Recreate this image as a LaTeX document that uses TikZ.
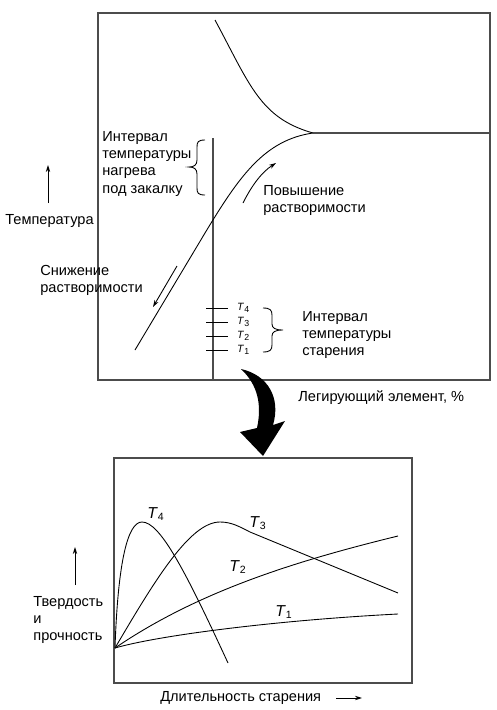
\documentclass[tikz,border=0pt]{standalone}
\usepackage{fontspec}
\setmainfont{Liberation Sans}
\usetikzlibrary{arrows.meta}
\tikzset{
  lbl/.style={inner sep=0pt,align=left,anchor=north west,font=\fontsize{8.3}{9.8}\selectfont},
  tlbl/.style={inner sep=0pt,font=\fontsize{6}{7}\selectfont},
  clbl/.style={inner sep=0pt,font=\fontsize{9}{10}\selectfont},
  frame/.style={draw=black!70,line width=0.6pt},
  curve/.style={line width=0.5pt},
}
\newcommand{\Tlab}[1]{\textit{T}\textsubscript{#1}}
\begin{document}
\begin{tikzpicture}[x=0.02cm,y=-0.02cm,>={Stealth[length=4pt,width=2.5pt]}]
\useasboundingbox (0,0) rectangle (497,710);
% upper diagram
\draw[frame] (98,13) rectangle (490,380);
\draw[frame] (213,138) -- (213,380);
\draw[curve] (215,20) .. controls (250,85) and (260,118) .. (313,133);
\draw[frame] (313,133) -- (490,133);
\draw[curve] (135,350) -- (205,233) .. controls (240,175) and (265,140) .. (313,133);
\draw[->,curve] (243,203) .. controls (252,185) and (262,172) .. (276,163);
\draw[->,curve] (177,266) -- (153,307);
% quench interval
\draw[curve] (205,140) .. controls (198,140) and (197,142) .. (197,147) -- (197,160)
  .. controls (197,165) and (194,167) .. (189,167) .. controls (194,167) and (197,169) .. (197,174)
  -- (197,188) .. controls (197,193) and (198,195) .. (205,195);
\node[lbl] (quench) at (102,131) {Интервал\\температуры\\нагрева\\под закалку};
% ageing temperatures
\foreach \y/\i in {308/4,322/3,336/2,350/1}
  \draw[curve] (206,\y) -- (228,\y) node[tlbl,right=5pt] (t\i) {\Tlab{\i}};
\draw[curve] (263,308) .. controls (270,308) and (272,310) .. (272,315) -- (272,324)
  .. controls (272,328) and (275,330) .. (283,330) .. controls (275,330) and (272,332) .. (272,336)
  -- (272,345) .. controls (272,350) and (270,352) .. (263,352);
\node[lbl] (ageint) at (302,311) {Интервал\\температуры\\старения};
\node[lbl] (up) at (263,185) {Повышение\\растворимости};
\node[lbl] (down) at (40,265) {Снижение\\растворимости};
\node[lbl] (temp) at (5,214) {Температура};
\draw[->,curve] (48,203) -- (48,165);
\node[lbl] (alloy) at (298,390) {Легирующий элемент, \%};
% big arrow
\fill (241,369) .. controls (268,375) and (281,398) .. (273,425) -- (285,421) -- (263,456)
  -- (240,432) -- (257,428) .. controls (262,405) and (258,385) .. cycle;
% lower diagram
\draw[frame] (114,458) rectangle (412,683);
\draw[curve] (115,648) .. controls (118,560) and (128,522) .. (142,522)
  .. controls (160,522) and (185,570) .. (228,663);
\draw[curve] (115,648) .. controls (155,580) and (190,522) .. (220,522)
  .. controls (232,522) and (240,527) .. (250,532) -- (398,593);
\draw[curve] (115,648) .. controls (200,590) and (300,560) .. (398,536);
\draw[curve] (115,648) .. controls (160,635) and (280,620) .. (398,614);
\node[clbl] (c4) at (156,514) {\Tlab{4}};
\node[clbl] (c3) at (258,523) {\Tlab{3}};
\node[clbl] (c2) at (238,567) {\Tlab{2}};
\node[clbl] (c1) at (284,612) {\Tlab{1}};
\node[lbl] (hard) at (33,596) {Твердость\\и\\прочность};
\draw[->,curve] (75,585) -- (75,547);
\node[lbl,anchor=west] (dur) at (160,698) {Длительность старения};
\draw[->,curve] (336,698) -- (362,698);
\end{tikzpicture}
\end{document}
